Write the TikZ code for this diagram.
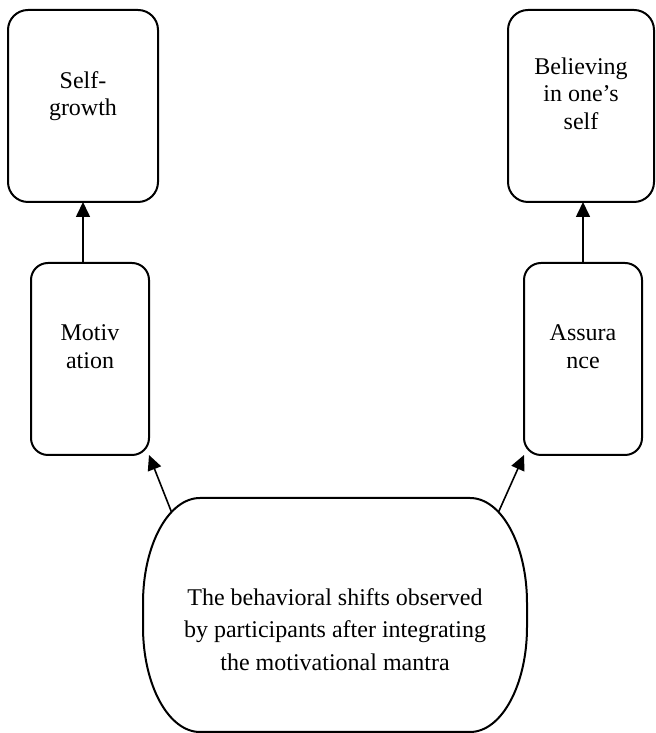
\documentclass[tikz,border=0pt]{standalone}
\usepackage{fontspec}
\setmainfont{Liberation Serif}
\usetikzlibrary{arrows.meta, calc}

\begin{document}
\begin{tikzpicture}[
    x=1pt, y=1pt,
    goal/.style={rectangle, draw, rounded corners=10pt, line width=1pt, minimum height=96pt, align=center, inner sep=0pt, outer sep=0pt, font=\fontsize{12}{13.8}\selectfont, execute at end node={\rule[-12.5pt]{0pt}{12.5pt}}},
    change/.style={goal, rounded corners=8.5pt},
    source/.style={minimum width=192pt, minimum height=117pt, align=center, inner sep=0pt, outer sep=0pt, font=\fontsize{12}{16.25}\selectfont, execute at end node={\rule{0pt}{55.5pt}}},
    arrow/.style={-{Triangle[length=7.5pt, width=7pt]}, line width=0.8pt}
]
\useasboundingbox (0,0) rectangle (327.5,366.5);

\node[goal, minimum width=75pt] (self-growth) at (41.5,313.5) {Self-\\growth};
\node[goal, minimum width=73pt] (believing) at (290.5,313.5) {Believing\\in one’s\\self};
\node[change, minimum width=59pt] (motivation) at (45,187) {Motiv\\ation};
\node[change, minimum width=59pt] (assurance) at (291.5,187) {Assura\\nce};
\node[source] (mantra) at (167.5,59) {The behavioral shifts observed\\by participants after integrating\\the motivational mantra};

\draw[line width=1pt] ([xshift=28.5pt]mantra.north west) -- ([xshift=-28.5pt]mantra.north east)
    arc[start angle=90, end angle=0, x radius=28.5pt, y radius=52.5pt] -- ++(0,-12)
    arc[start angle=0, end angle=-90, x radius=28.5pt, y radius=52.5pt] -- ([xshift=28.5pt]mantra.south west)
    arc[start angle=270, end angle=180, x radius=28.5pt, y radius=52.5pt] -- ++(0,12)
    arc[start angle=180, end angle=90, x radius=28.5pt, y radius=52.5pt] -- cycle;

\coordinate (mantra-left) at ($(mantra.north west)+(28.5,-52.5)+(120:28.5pt and 52.5pt)$);
\coordinate (mantra-right) at ($(mantra.north east)+(-28.5,-52.5)+(60:28.5pt and 52.5pt)$);

\draw[arrow] (self-growth.south |- motivation.north) -- (self-growth.south);
\draw[arrow] (assurance.north) -- (assurance.north |- believing.south);
\draw[arrow] (mantra-left) -- (motivation.south east);
\draw[arrow] (mantra-right) -- (assurance.south west);

\end{tikzpicture}
\end{document}
